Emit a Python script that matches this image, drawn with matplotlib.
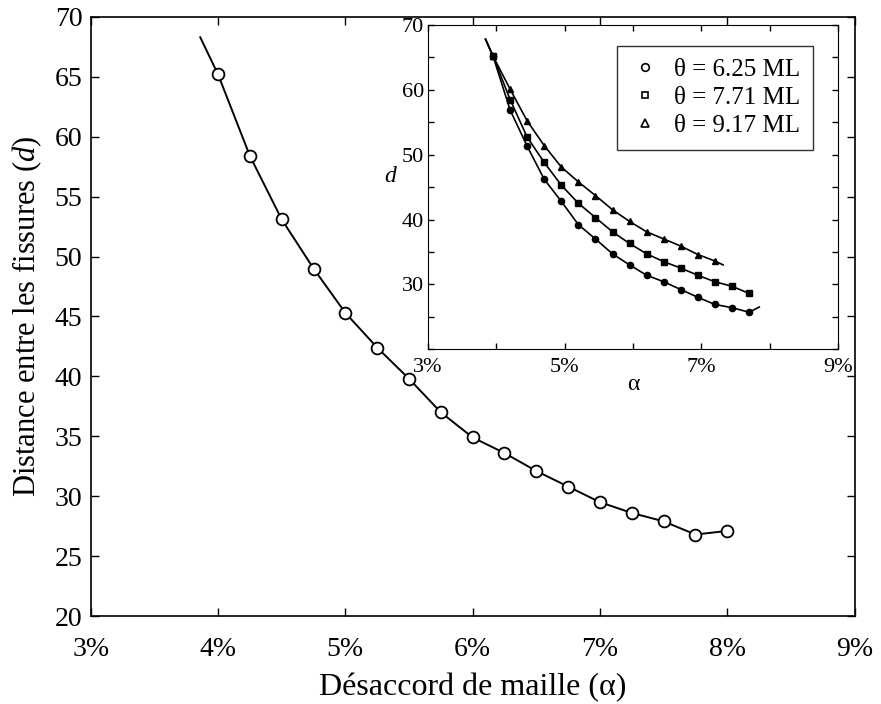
import matplotlib
matplotlib.use("Agg")
import matplotlib.pyplot as plt
from matplotlib.lines import Line2D
from matplotlib.ticker import MultipleLocator, FuncFormatter

plt.rcParams['font.family'] = ['Liberation Serif', 'DejaVu Serif']
plt.rcParams['mathtext.fontset'] = 'custom'
plt.rcParams['mathtext.rm'] = 'Liberation Serif'
plt.rcParams['mathtext.it'] = 'Liberation Serif:italic'

# main curve (mismatch in %, crack spacing)
alpha = [4.0, 4.25, 4.5, 4.75, 5.0, 5.25, 5.5, 5.75, 6.0, 6.25, 6.5, 6.75,
         7.0, 7.25, 7.5, 7.75, 8.0]
dist = [65.2, 58.4, 53.1, 49.0, 45.3, 42.4, 39.8, 37.0, 34.9, 33.6, 32.1,
        30.8, 29.5, 28.6, 27.9, 26.8, 27.1]
# where the drawn line starts above the first point
line_start = (3.86, 68.3)

# inset series
ins_x = [3.95, 4.2, 4.45, 4.7, 4.95, 5.2, 5.45, 5.7, 5.95, 6.2, 6.45, 6.7,
         6.95, 7.2, 7.45, 7.7]
d_625 = [65.2, 56.9, 51.3, 46.2, 42.8, 39.2, 37.0, 34.7, 33.0, 31.4, 30.4,
         29.2, 28.0, 26.9, 26.4, 25.7]
d_771 = [65.2, 58.5, 52.7, 48.8, 45.3, 42.5, 40.3, 38.1, 36.3, 34.7, 33.5,
         32.5, 31.4, 30.4, 29.7, 28.6]
d_917 = [65.2, 60.1, 55.2, 51.4, 48.1, 45.8, 43.7, 41.5, 39.7, 38.1, 37.0,
         35.9, 34.6, 33.6]
ins_start = (3.84, 67.8)
end_625 = (7.85, 26.5)
end_917 = (7.32, 33.0)
labels = [u'θ = 6.25 ML', u'θ = 7.71 ML', u'θ = 9.17 ML']

pct = FuncFormatter(lambda v, p: '%d%%' % round(v))

fig = plt.figure(figsize=(8.81, 7.04), dpi=100)
ax = fig.add_axes([0.103, 0.125, 0.867, 0.851])

ax.plot([line_start[0]] + alpha, [line_start[1]] + dist, color='black', lw=1.4)
ax.plot(alpha, dist, linestyle='none', marker='o', ms=8.5, mfc='white',
        mec='black', mew=1.3)
ax.set_xlim(3, 9)
ax.set_ylim(20, 70)
ax.xaxis.set_major_locator(MultipleLocator(1))
ax.yaxis.set_major_locator(MultipleLocator(5))
ax.xaxis.set_major_formatter(pct)
ax.tick_params(direction='in', top=True, right=True, labelsize=20, length=6,
               width=1)
ax.tick_params(axis='x', pad=15)
ax.tick_params(axis='y', pad=6)
ax.set_xlabel(u'Désaccord de maille (α)', fontsize=23, labelpad=8)
ax.set_ylabel(r'Distance entre les fissures ($d$)', fontsize=22, labelpad=8)
for s in ax.spines.values():
    s.set_linewidth(1.2)

# inset
axi = fig.add_axes([0.486, 0.504, 0.465, 0.4605])
xs = [ins_start[0]] + ins_x
axi.plot(xs + [end_625[0]], [ins_start[1]] + d_625 + [end_625[1]],
         color='black', lw=1.2)
axi.plot(xs, [ins_start[1]] + d_771, color='black', lw=1.2)
axi.plot(xs[:len(d_917) + 1] + [end_917[0]],
         [ins_start[1]] + d_917 + [end_917[1]], color='black', lw=1.2)
axi.plot(ins_x, d_625, 'o', color='black', ms=4.5)
axi.plot(ins_x, d_771, 's', color='black', ms=4)
axi.plot(ins_x[:len(d_917)], d_917, '^', color='black', ms=4.5)
axi.set_xlim(3, 9)
axi.set_ylim(20, 70)
axi.xaxis.set_major_locator(MultipleLocator(1))
axi.yaxis.set_major_locator(MultipleLocator(5))
axi.xaxis.set_major_formatter(
    FuncFormatter(lambda v, p: '%d%%' % round(v) if round(v) % 2 == 1 else ''))
axi.yaxis.set_major_formatter(
    FuncFormatter(lambda v, p: '%d' % v if round(v) % 10 == 0 and v > 25 else ''))
axi.tick_params(direction='in', top=True, right=True, labelsize=16, length=4,
                width=1, pad=3)
axi.tick_params(axis='x', pad=6)
axi.set_xlabel(u'α', fontsize=17, labelpad=-2)
axi.set_ylabel('d', fontsize=17, style='italic', rotation=0, labelpad=8)

handles = [Line2D([], [], linestyle='none', marker='o', mfc='white', mec='black', ms=5.5, mew=1.2),
           Line2D([], [], linestyle='none', marker='s', mfc='white', mec='black', ms=5, mew=1.2),
           Line2D([], [], linestyle='none', marker='^', mfc='white', mec='black', ms=5.5, mew=1.2)]
leg = axi.legend(handles, labels, loc='upper right', bbox_to_anchor=(0.939, 0.935),
                 fontsize=18, frameon=True, fancybox=False, edgecolor='black',
                 handlelength=1.24, handletextpad=0.55, borderpad=0.5,
                 labelspacing=0.22, borderaxespad=0)
leg.get_frame().set_linewidth(1.0)

fig.savefig('out.png', dpi=100)
